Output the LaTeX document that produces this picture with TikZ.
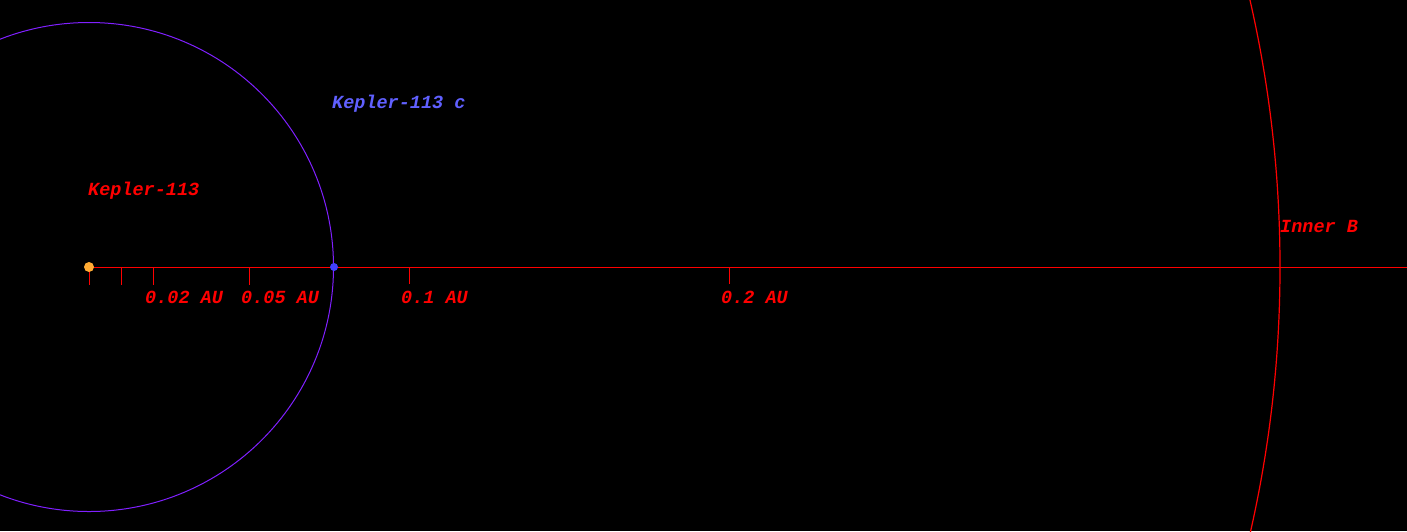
\documentclass[tikz,border=0pt]{standalone}
\usepackage{fontspec}
\newfontfamily\monofnt{Liberation Mono}
\definecolor{axisred}{RGB}{255,0,0}
\definecolor{orbitviolet}{RGB}{128,32,255}
\definecolor{planetblue}{RGB}{64,64,255}
\definecolor{labelblue}{RGB}{96,96,255}
\definecolor{starorange}{RGB}{255,170,51}
\tikzset{
  lbl/.style={anchor=base west, inner sep=0pt, font=\monofnt\bfseries\itshape\fontsize{18.5}{20}\selectfont},
  redlbl/.style={lbl, text=axisred},
  tickmark/.style={draw=axisred, line width=0.9pt},
}
\begin{document}
\begin{tikzpicture}[x=1pt,y=-1pt]
\fill[black] (0,0) rectangle (1407,531);
\useasboundingbox (0,0) rectangle (1407,531);
\begin{scope}
\clip (0,0) rectangle (1407,531);
% orbit of Kepler-113 c
\draw[orbitviolet, line width=1pt] (89,267) circle (244.5);
% inner boundary arc
\draw[axisred, line width=1.2pt] (89,267) circle (1191);
\end{scope}
% axis
\coordinate (axend) at (1407,267);
\coordinate (star) at (89,267);
\draw[axisred, line width=1pt] (star) -- (axend);
% ticks
\foreach \x/\l in {89/18, 121/18, 153/18, 249/18, 409/17, 729/17}{
  \draw[tickmark] (\x,267) -- ++(0,\l);
}
% tick labels
\node[redlbl] (t1) at (145,303) {0.02 AU};
\node[redlbl] (t2) at (241,303) {0.05 AU};
\node[redlbl] (t3) at (401,303) {0.1 AU};
\node[redlbl] (t4) at (721,303) {0.2 AU};
% star and planet
\fill[starorange] (star) circle (5);
\node[circle, fill=planetblue, inner sep=0pt, minimum size=8pt] (planet) at (334,267) {};
% labels
\node[redlbl] (starlbl) at (88,195) {Kepler-113};
\node[lbl, text=labelblue] (planetlbl) at (332,108) {Kepler-113 c};
\node[redlbl] (innerb) at (1280,232) {Inner B};
\end{tikzpicture}
\end{document}
